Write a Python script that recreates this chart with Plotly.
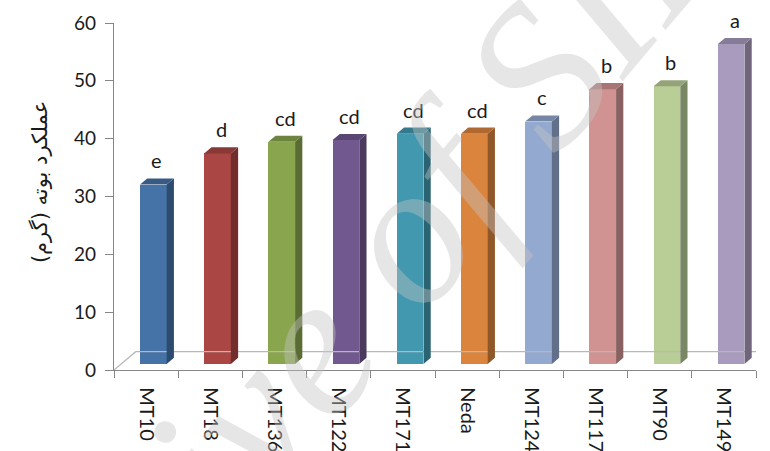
import plotly.graph_objects as go

# Plant yield per genotype (g) with mean-separation letters
genotypes = ["MT10", "MT18", "MT136", "MT122", "MT171", "Neda", "MT124", "MT117", "MT90", "MT149"]
yield_g = [31.0, 36.4, 38.4, 38.7, 39.8, 39.8, 41.9, 47.5, 48.0, 55.3]
letters = ["e", "d", "cd", "cd", "cd", "cd", "c", "b", "b", "a"]

front_colors = ["#4572A7", "#AA4643", "#89A54E", "#71588F", "#4198AF",
                "#DB843D", "#93A9CF", "#D19392", "#B9CD96", "#A99BBD"]


def shade(hex_color, k):
    h = hex_color.lstrip("#")
    r, g, b = (int(h[i:i + 2], 16) for i in (0, 2, 4))
    return "rgb({},{},{})".format(int(r * k), int(g * k), int(b * k))


# Oblique 3D projection: depth of the floor expressed in axis units
DX, DY = 0.338, 3.17          # full floor depth (category units, value units)
fx, fy = DX / 3, DY / 3       # bar front plane sits a third of the way back
bdx, bdy = DX / 3, DY / 3     # bar depth
W = 0.416                     # bar width

fig = go.Figure()

# floor outline (back and left edges; front edge is the x axis line)
fig.add_trace(go.Scatter(
    x=[-0.5, -0.5 + DX, 9.5 + DX, 9.5],
    y=[0, DY, DY, 0],
    mode="lines", line=dict(color="#b8b8b8", width=1.3),
    hoverinfo="skip", showlegend=False, cliponaxis=False))

for i, (v, c) in enumerate(zip(yield_g, front_colors)):
    xl = i + fx - W / 2
    xr = i + fx + W / 2
    top = fy + v
    # side face
    fig.add_trace(go.Scatter(
        x=[xr, xr + bdx, xr + bdx, xr, xr],
        y=[fy, fy + bdy, top + bdy, top, fy],
        fill="toself", fillcolor=shade(c, 0.66), mode="lines",
        line=dict(width=0), hoverinfo="skip", showlegend=False, cliponaxis=False))
    # top face
    fig.add_trace(go.Scatter(
        x=[xl, xr, xr + bdx, xl + bdx, xl],
        y=[top, top, top + bdy, top + bdy, top],
        fill="toself", fillcolor=shade(c, 0.8), mode="lines",
        line=dict(width=0), hoverinfo="skip", showlegend=False, cliponaxis=False))

# front faces of the columns
fig.add_trace(go.Bar(
    x=[i + fx for i in range(len(genotypes))],
    y=yield_g,
    base=[fy] * len(genotypes),
    width=W,
    marker=dict(color=front_colors, line=dict(width=0)),
    showlegend=False, hoverinfo="skip"))

# significance letters above each column
for i, (v, t) in enumerate(zip(yield_g, letters)):
    fig.add_annotation(
        x=i + fx + bdx / 2, y=fy + v + bdy, text=t, showarrow=False,
        yanchor="bottom", yshift=4,
        font=dict(family="Lato", size=20, color="#1a1a1a"))

# y-axis title (Persian)
fig.add_annotation(
    xref="paper", yref="paper", x=-0.115, y=0.542, xanchor="center", yanchor="middle",
    text="عملکرد بوته (گرم)", textangle=-90, showarrow=False,
    font=dict(family="DejaVu Sans", size=21, color="#1a1a1a"))

# watermark
fig.add_annotation(
    xref="paper", yref="paper", x=0.315, y=0.09, xanchor="center", yanchor="middle",
    text="<i>Archive of SID</i>", textangle=-50, showarrow=False,
    font=dict(family="Liberation Serif", size=205, color="rgba(195,195,195,0.42)"))

fig.update_layout(
    width=770, height=451,
    margin=dict(l=114, r=14, t=23, b=81, autoexpand=False),
    paper_bgcolor="white", plot_bgcolor="white",
    bargap=0,
    xaxis=dict(
        range=[-0.5, 9.5], tickmode="array",
        tickvals=list(range(len(genotypes))), ticktext=genotypes,
        tickangle=90, ticks="", showgrid=False, zeroline=False,
        showline=True, linecolor="#868686", linewidth=1.3,
        ticklabelstandoff=12, automargin=False,
        tickfont=dict(family="Lato", size=20, color="#1a1a1a"),
        minor=dict(tickmode="linear", tick0=-0.5, dtick=1, ticks="outside",
                   ticklen=7, tickcolor="#868686", tickwidth=1.3, showgrid=False),
    ),
    yaxis=dict(
        range=[0, 60], dtick=10, ticks="outside", ticklen=8,
        tickcolor="#868686", tickwidth=1.3, showgrid=False, zeroline=False,
        showline=True, linecolor="#868686", linewidth=1.3, automargin=False,
        ticklabelstandoff=5,
        tickfont=dict(family="Lato", size=19, color="#1a1a1a"),
    ),
)

fig.write_html("out.html")
